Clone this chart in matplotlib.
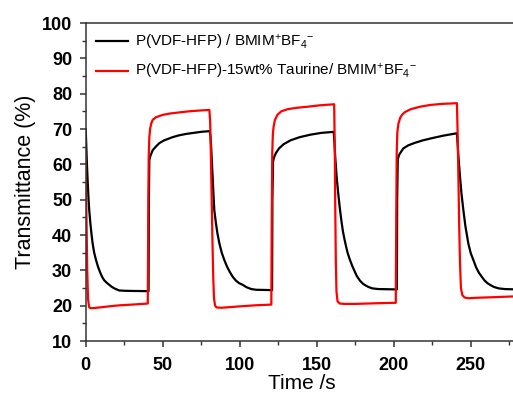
import matplotlib
matplotlib.use("Agg")
import matplotlib.pyplot as plt
from matplotlib.ticker import MultipleLocator

plt.rcParams['font.family'] = ['Liberation Sans', 'DejaVu Sans']
plt.rcParams['mathtext.fontset'] = 'custom'
plt.rcParams['mathtext.rm'] = 'Liberation Sans'
plt.rcParams['mathtext.it'] = 'Liberation Sans'
plt.rcParams['mathtext.default'] = 'regular'

# ---- data: black curve P(VDF-HFP) / BMIM+BF4- ----
t_black = [0, 0.4, 0.8, 1.3, 1.8, 2.3, 3, 3.7, 4.5, 5.5, 6.7, 8, 9.3, 10.6, 12, 13.6,
           15.3, 17, 19, 21.8, 26, 40.8,
           41.0, 41.3, 42, 43.5, 45.5, 47.8, 51, 56.5, 60.5, 65.1, 70, 75, 80.5,
           81, 81.5, 82, 82.5, 83, 83.5, 84.5, 85.5, 86.8, 88.3, 90, 91.8, 93.6, 95.4,
           97.5, 99.5, 101.9, 104.5, 107.5, 110.6, 121,
           121.2, 121.6, 122.3, 123.5, 125.5, 128.5, 133, 139, 146, 153, 161,
           161.5, 162, 163, 164, 165, 166, 167, 168, 169, 170, 171.6, 173, 174.5, 176,
           178, 180, 181.4, 183.5, 186, 190, 202,
           202.2, 202.6, 203.5, 204.8, 206.2, 209.5, 213.8, 219, 224.7, 232, 241,
           241.5, 242, 243, 244, 245.2, 246.5, 248.4, 250, 251.7, 253.5, 255.3, 257.1,
           259, 261, 262.5, 265, 268, 272, 280]
v_black = [70, 65, 60, 55, 50.5, 47, 43.5, 40.5, 37.6, 35, 32.9, 31, 29.5, 28.2, 27.2, 26.5,
           25.9, 25.3, 24.8, 24.3, 24.2, 24.1,
           50, 61.2, 62.4, 64, 65, 66, 66.8, 67.7, 68.2, 68.6, 68.9, 69.2, 69.4,
           68, 64.5, 60, 55.5, 51, 47, 43.5, 40.5, 37.6, 35, 32.9, 31, 29.5, 28.2,
           27.1, 26.4, 25.9, 25.2, 24.7, 24.5, 24.4,
           50, 60.8, 62, 63.2, 64.5, 65.7, 66.8, 67.7, 68.4, 68.9, 69.2,
           66, 62, 56, 51.5, 47.5, 44, 41, 38.8, 36.8, 35, 32.9, 31.3, 29.8, 28.4,
           27.1, 26.2, 25.8, 25.3, 24.9, 24.7, 24.6,
           50, 61.5, 62.7, 63.6, 64.5, 65.4, 66.1, 66.8, 67.4, 68.1, 68.8,
           65.5, 62, 56.5, 51.5, 47, 42.5, 37.6, 34.8, 32.9, 30.8, 29.3, 28.2,
           27.1, 26.3, 25.9, 25.3, 24.9, 24.7, 24.6]

# ---- data: red curve P(VDF-HFP)-15wt% Taurine / BMIM+BF4- ----
t_red = [0, 0.5, 1, 1.5, 2.2, 3, 5, 9, 15, 22, 30, 40.3,
         40.6, 40.9, 41.3, 41.8, 42.5, 43.5, 45.5, 50, 55, 60.8, 67, 73, 80.3,
         80.8, 81.3, 81.8, 82.3, 82.8, 83.3, 84, 85, 88, 94, 100, 110, 120.5,
         120.8, 121.1, 121.5, 122, 122.8, 124.4, 127, 131, 137, 144, 152, 161.3,
         161.7, 162, 162.4, 162.8, 163.5, 165, 168, 175, 182.5, 190, 199.7, 201.3,
         201.6, 201.9, 202.3, 203, 204.2, 205.5, 207.3, 211, 217, 223.6, 231, 241,
         241.5, 242, 242.5, 243, 243.6, 244.5, 246, 248.4, 252, 258, 265, 276.6, 280]
v_red = [63, 45, 30, 22, 19.6, 19.3, 19.3, 19.5, 19.8, 20.1, 20.3, 20.6,
         45, 62, 67.5, 70, 71.5, 72.6, 73.3, 74, 74.4, 74.7, 75, 75.2, 75.4,
         72, 62, 50, 38, 28, 22, 20, 19.5, 19.4, 19.6, 19.8, 20.1, 20.3,
         45, 63, 68.5, 70.7, 72.5, 74, 75, 75.6, 76, 76.3, 76.7, 77,
         65, 48, 32, 24, 21.2, 20.6, 20.5, 20.5, 20.6, 20.7, 20.8, 20.8,
         45, 63, 69, 71.5, 73.2, 74.1, 74.8, 75.6, 76.3, 76.8, 77.1, 77.3,
         68, 55, 42, 32, 25, 23, 22.3, 22.1, 22.2, 22.3, 22.4, 22.6, 22.6]

label_black = r'P(VDF-HFP) / BMIM$^{+}$BF$_{4}$$^{-}$'
label_red = r'P(VDF-HFP)-15wt% Taurine/ BMIM$^{+}$BF$_{4}$$^{-}$'

fig = plt.figure(figsize=(5.13, 3.94), dpi=100)
ax = fig.add_axes([85.7 / 513, 53 / 394, 431.3 / 513, 318 / 394])

ax.plot(t_black, v_black, color='black', lw=1.6, label=label_black)
ax.plot(t_red, v_red, color='#ff0000', lw=1.6, label=label_red)

ax.set_xlim(0, 280)
ax.set_ylim(10, 100)
ax.xaxis.set_major_locator(MultipleLocator(50))
ax.xaxis.set_minor_locator(MultipleLocator(25))
ax.yaxis.set_major_locator(MultipleLocator(10))
ax.yaxis.set_minor_locator(MultipleLocator(5))

ax.spines['right'].set_visible(False)
for s in ['left', 'bottom', 'top']:
    ax.spines[s].set_linewidth(1.1)
    ax.spines[s].set_color('#333333')

ax.tick_params(axis='x', which='major', pad=7)
ax.tick_params(axis='y', which='major', pad=5.5)
ax.tick_params(which='major', direction='out', length=4.3, width=1.1, color='#333333',
               labelsize=13)
ax.tick_params(which='minor', direction='out', length=2.7, width=1.0, color='#333333')
for lab in ax.get_xticklabels() + ax.get_yticklabels():
    lab.set_fontweight('bold')

ax.set_xlabel('Time /s', fontsize=15, labelpad=0)
ax.set_ylabel('Transmittance (%)', fontsize=15.5, labelpad=4)

leg = ax.legend(loc='upper left', bbox_to_anchor=(0.0, 1.0), frameon=False,
                fontsize=11, handlelength=2.1, handletextpad=0.45,
                labelspacing=0.68, borderaxespad=0.25)

fig.savefig('out.png', dpi=100)
